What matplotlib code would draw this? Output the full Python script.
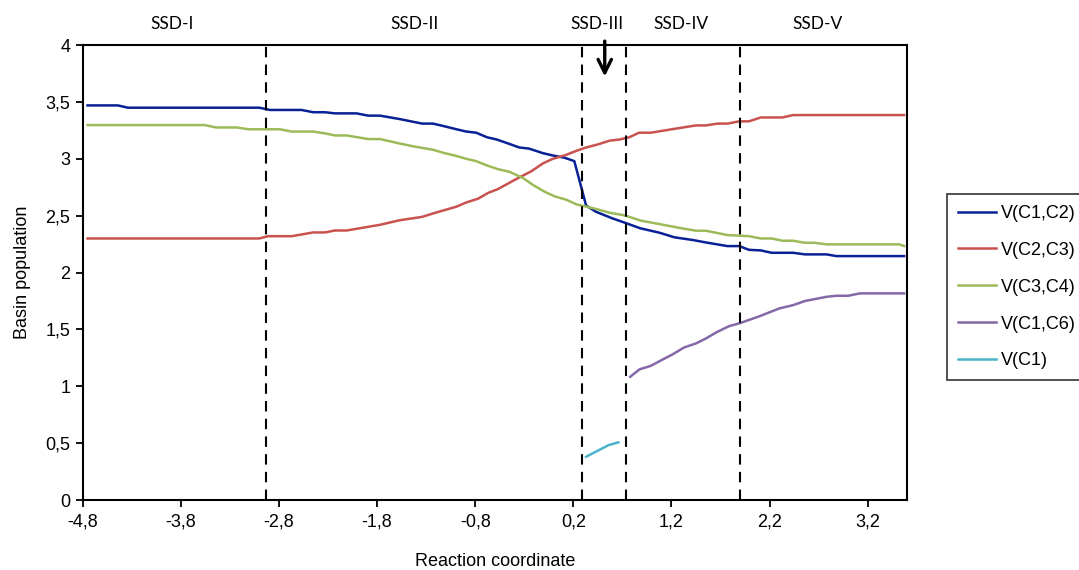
import numpy as np
import matplotlib
matplotlib.use("Agg")
import matplotlib.pyplot as plt
from matplotlib.ticker import FuncFormatter

plt.rcParams['font.family'] = ['Liberation Sans', 'DejaVu Sans']

# V(C1,C2)
blue_x = [-4.75, -4.44, -4.34, -3.0, -2.89, -2.57, -2.45, -2.33, -2.23, -2.01, -1.89, -1.77,
          -1.57, -1.34, -1.23, -1.13, -0.99, -0.89, -0.79, -0.68, -0.58, -0.48, -0.35, -0.25,
          -0.11, -0.01, 0.11, 0.21, 0.33, 0.43, 0.60, 0.72, 0.88, 1.08, 1.23, 1.42, 1.55, 1.77,
          1.89, 1.99, 2.11, 2.22, 2.44, 2.56, 2.78, 2.88, 3.57]
blue_y = [3.47, 3.47, 3.45, 3.45, 3.43, 3.43, 3.41, 3.41, 3.40, 3.40, 3.38, 3.38,
          3.35, 3.31, 3.31, 3.29, 3.26, 3.24, 3.23, 3.19, 3.17, 3.14, 3.10, 3.09,
          3.05, 3.03, 3.01, 2.98, 2.59, 2.535, 2.476, 2.44, 2.39, 2.35, 2.31, 2.286, 2.265, 2.233,
          2.233, 2.20, 2.195, 2.174, 2.174, 2.16, 2.16, 2.145, 2.145]

# V(C2,C3)
red_x = [-4.75, -3.0, -2.91, -2.67, -2.45, -2.33, -2.23, -2.11, -1.77, -1.57, -1.34, -1.21,
         -1.11, -0.99, -0.89, -0.77, -0.67, -0.57, -0.45, -0.35, -0.23, -0.11, -0.01, 0.11,
         0.23, 0.33, 0.45, 0.57, 0.67, 0.77, 0.87, 0.99, 1.11, 1.23, 1.45, 1.55, 1.67, 1.77,
         1.89, 1.99, 2.11, 2.33, 2.44, 3.57]
red_y = [2.30, 2.30, 2.32, 2.32, 2.353, 2.353, 2.37, 2.37, 2.42, 2.46, 2.49, 2.525,
         2.55, 2.58, 2.617, 2.65, 2.70, 2.734, 2.79, 2.837, 2.89, 2.96, 3.0, 3.03,
         3.07, 3.10, 3.127, 3.16, 3.17, 3.19, 3.23, 3.23, 3.247, 3.264, 3.294, 3.294, 3.31, 3.31,
         3.33, 3.33, 3.364, 3.364, 3.385, 3.385]

# V(C3,C4)
green_x = [-4.75, -3.555, -3.44, -3.23, -3.11, -2.79, -2.67, -2.45, -2.33, -2.23, -2.11, -1.89,
           -1.77, -1.57, -1.43, -1.23, -1.11, -1.01, -0.89, -0.79, -0.69, -0.57, -0.45, -0.31,
           -0.21, -0.09, 0.01, 0.13, 0.23, 0.33, 0.43, 0.57, 0.71, 0.77, 0.89, 1.08, 1.28, 1.45,
           1.55, 1.77, 1.99, 2.11, 2.22, 2.33, 2.44, 2.56, 2.66, 2.78, 3.52, 3.57]
green_y = [3.297, 3.297, 3.276, 3.276, 3.26, 3.26, 3.24, 3.24, 3.224, 3.206, 3.206, 3.174,
           3.174, 3.135, 3.11, 3.08, 3.05, 3.03, 3.0, 2.98, 2.945, 2.91, 2.886, 2.83,
           2.77, 2.71, 2.67, 2.64, 2.60, 2.58, 2.56, 2.526, 2.505, 2.49, 2.456, 2.426, 2.393, 2.368,
           2.368, 2.33, 2.32, 2.30, 2.30, 2.28, 2.28, 2.262, 2.262, 2.248, 2.248, 2.233]

# V(C1,C6)
purple_x = [0.78, 0.875, 0.99, 1.10, 1.21, 1.33, 1.45, 1.55, 1.67, 1.79, 1.89, 2.10,
            2.30, 2.44, 2.56, 2.78, 2.88, 3.0, 3.12, 3.57]
purple_y = [1.084, 1.149, 1.18, 1.231, 1.28, 1.342, 1.377, 1.42, 1.48, 1.53, 1.553, 1.617,
            1.685, 1.714, 1.75, 1.787, 1.796, 1.796, 1.817, 1.817]

# V(C1)
cyan_x = [0.33, 0.43, 0.56, 0.66]
cyan_y = [0.38, 0.425, 0.483, 0.507]

# limites entre as regioes SSD
fronteiras = [-2.93, 0.285, 0.735, 1.90]
ssd_nomes = ["SSD-I", "SSD-II", "SSD-III", "SSD-IV", "SSD-V"]
ssd_pos = [-3.89, -1.415, 0.44, 1.30, 2.69]

fig = plt.figure(figsize=(10.79, 5.70), dpi=100)
ax = fig.add_axes([0.0766, 0.1228, 0.764, 0.798])

ax.plot(blue_x, blue_y, color='#0A2196', lw=1.8, label='V(C1,C2)')
ax.plot(red_x, red_y, color='#C9524F', lw=1.8, label='V(C2,C3)')
ax.plot(green_x, green_y, color='#9BBB59', lw=1.8, label='V(C3,C4)')
ax.plot(purple_x, purple_y, color='#8468A8', lw=1.8, label='V(C1,C6)')
ax.plot(cyan_x, cyan_y, color='#4BB4CC', lw=1.8, label='V(C1)')

for xf in fronteiras:
    ax.axvline(xf, color='black', lw=1.5, ls=(0, (5, 3.5)))

for nome, xp in zip(ssd_nomes, ssd_pos):
    ax.text(xp, 4.19, nome, ha='center', va='center', fontsize=12.5,
            family=['Lato', 'DejaVu Sans'], clip_on=False)

# seta indicando a regiao SSD-III
ax.annotate('', xy=(0.52, 3.70), xytext=(0.52, 4.06),
            arrowprops=dict(arrowstyle='->', lw=2.4, color='black',
                            mutation_scale=24), annotation_clip=False)

ax.set_xlim(-4.8, 3.6)
ax.set_ylim(0, 4)
ax.set_xticks(np.arange(-4.8, 3.3, 1.0))
ax.set_yticks(np.arange(0, 4.01, 0.5))
ax.xaxis.set_major_formatter(FuncFormatter(lambda v, p: f"{v:.1f}".replace('.', ',')))
ax.yaxis.set_major_formatter(FuncFormatter(lambda v, p: f"{v:g}".replace('.', ',')))
ax.tick_params(direction='out', length=5, width=1.3, labelsize=13)
ax.tick_params(axis='x', pad=5)
ax.tick_params(axis='y', pad=4)
for s in ax.spines.values():
    s.set_linewidth(1.5)

ax.set_xlabel("Reaction coordinate", fontsize=13, labelpad=16)
ax.set_ylabel("Basin population", fontsize=13, labelpad=10)

leg = ax.legend(loc='upper left', bbox_to_anchor=(1.0485, 0.6725), borderaxespad=0,
                frameon=True, fancybox=False, edgecolor='black', fontsize=13,
                handlelength=2.1, labelspacing=1.1, borderpad=0.6, handletextpad=0.3)
leg.get_frame().set_linewidth(1.2)

fig.savefig("out.png", dpi=100)
